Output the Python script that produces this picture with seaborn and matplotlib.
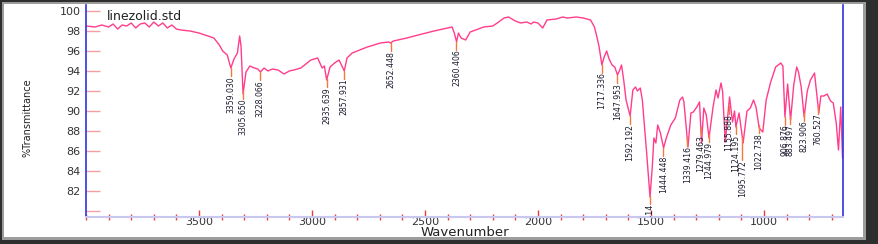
import numpy as np
import pandas as pd
import matplotlib
matplotlib.use("Agg")
import matplotlib.pyplot as plt
import matplotlib.font_manager as fm
from matplotlib.patches import Rectangle
from matplotlib.ticker import MultipleLocator
import seaborn as sns

# ---------------- data ----------------
wavenumber = [4000, 3960, 3930, 3900, 3880, 3860, 3840, 3820, 3800, 3780, 3760, 3740, 3720,
              3700, 3680, 3660, 3640, 3620, 3600, 3580, 3540, 3500, 3460, 3434, 3410, 3395,
              3375, 3359, 3345, 3330, 3320, 3314, 3305, 3292, 3275, 3255, 3240, 3228, 3212,
              3195, 3175, 3150, 3124, 3100, 3080, 3049, 3005, 2975, 2955, 2945, 2935, 2920,
              2900, 2880, 2857, 2845, 2822, 2755, 2697, 2660, 2652, 2640, 2580, 2530, 2460,
              2400, 2380, 2370, 2360, 2352, 2340, 2320, 2300, 2240, 2200, 2180, 2150, 2130,
              2100, 2077, 2050, 2030, 2019, 2000, 1979, 1960, 1920, 1890, 1870, 1830, 1800,
              1767, 1750, 1740, 1730, 1717, 1707, 1696, 1685, 1672, 1660, 1648, 1640, 1630,
              1620, 1610, 1592, 1580, 1568, 1560, 1547, 1538, 1520, 1504, 1494, 1487, 1478,
              1470, 1458, 1444, 1432, 1412, 1392, 1372, 1360, 1354, 1336, 1323, 1312, 1297,
              1285, 1276, 1266, 1255, 1243, 1225, 1212, 1203, 1190, 1183, 1171, 1152, 1139,
              1130, 1124, 1110, 1092, 1075, 1060, 1046, 1035, 1021, 1005, 990, 970, 948,
              925, 916, 907, 895, 882, 868, 855, 847, 835, 822, 808, 794, 776, 770, 757,
              748, 735, 720, 705, 693, 680, 670, 660, 652]
transmittance = [98.5, 98.4, 98.6, 98.4, 98.7, 98.2, 98.6, 98.5, 98.8, 98.3, 98.7, 98.8, 98.4,
                 98.9, 98.5, 98.8, 98.3, 98.6, 98.2, 98.1, 98.0, 97.8, 97.5, 97.3, 96.6, 96.0,
                 95.6, 94.3, 95.2, 95.8, 97.5, 96.5, 91.7, 93.9, 94.5, 94.3, 94.2, 93.9, 94.3,
                 94.0, 94.2, 94.1, 93.7, 94.0, 94.1, 94.3, 95.1, 95.3, 94.3, 94.5, 93.1, 94.4,
                 94.8, 95.1, 94.0, 95.3, 95.8, 96.4, 96.8, 96.9, 96.8, 97.0, 97.3, 97.6, 98.0,
                 98.3, 98.4, 97.8, 96.9, 97.8, 97.3, 97.1, 97.9, 98.4, 98.5, 98.8, 99.3, 99.4,
                 99.0, 98.8, 98.9, 98.7, 98.9, 98.8, 98.3, 99.1, 99.2, 99.4, 99.3, 99.4, 99.3,
                 99.1, 98.4, 97.5, 96.5, 94.6, 95.4, 96.0, 95.2, 94.6, 94.4, 93.6, 94.0, 94.6,
                 93.0, 91.1, 89.5, 92.1, 92.4, 92.0, 92.3, 91.1, 86.1, 81.4, 84.4, 87.3, 86.8,
                 88.6, 87.8, 86.3, 87.3, 88.6, 89.3, 91.1, 91.4, 90.9, 86.4, 89.8, 89.9, 90.4,
                 90.9, 86.8, 90.3, 89.6, 87.3, 90.4, 92.1, 91.3, 92.8, 92.0, 86.9, 91.4, 88.9,
                 90.0, 88.4, 89.8, 86.8, 90.0, 90.3, 91.1, 90.4, 88.3, 87.9, 91.1, 92.9, 94.4,
                 94.8, 94.5, 89.4, 92.7, 89.1, 92.6, 94.4, 93.9, 92.4, 89.4, 92.0, 93.1, 93.8,
                 92.5, 89.8, 91.5, 91.5, 91.7, 91.0, 90.8, 88.8, 86.1, 90.4, 85.3]

peak_wn = [3359.030, 3305.650, 3228.066, 2935.639, 2857.931, 2652.448, 2360.406, 1717.336,
           1647.953, 1592.192, 1504.414, 1444.448, 1339.416, 1279.463, 1244.979, 1155.888,
           1124.195, 1095.772, 1022.738, 906.876, 883.497, 823.906, 760.527]
peak_labels = ["3359.030", "3305.650", "3228.066", "2935.639", "2857.931", "2652.448",
               "2360.406", "1717.336", "1647.953", "1592.192", "1504.414", "1444.448",
               "1339.416", "1279.463", "1244.979", "1155.888", "1124.195", "1095.772",
               "1022.738", "906.876", "883.497", "823.906", "760.527"]

y_ticks = [80, 82, 84, 86, 88, 90, 92, 94, 96, 98, 100]
y_tick_labels = ["", "82", "84", "86", "88", "90", "92", "94", "96", "98", "100"]
x_ticks = [3500, 3000, 2500, 2000, 1500, 1000]
x_tick_labels = ["3500", "3000", "2500", "2000", "1500", "1000"]

title_text = "linezolid.std"
x_label = "Wavenumber"
y_label = "%Transmittance"

# ---------------- style ----------------
sns.set_theme(style="white")
names = {f.name for f in fm.fontManager.ttflist}
narrow = "Liberation Sans Narrow" if "Liberation Sans Narrow" in names else "DejaVu Sans"
plt.rcParams["font.family"] = ["DejaVu Sans"]

W, H = 879, 244
fig = plt.figure(figsize=(W / 100, H / 100), dpi=100)
fig.patch.set_facecolor("#2e2e2e")
# frame look
fig.add_artist(Rectangle((2 / W, 1 - 240 / H), 864 / W, 238 / H, transform=fig.transFigure,
                         facecolor="#9c9c9c", edgecolor="none", zorder=-3))
fig.add_artist(Rectangle((4 / W, 1 - 237 / H), 859 / W, 233 / H, transform=fig.transFigure,
                         facecolor="white", edgecolor="none", zorder=-2))

x0, x1, ytop, ybot = 86, 843, 5, 217
ax = fig.add_axes([x0 / W, 1 - ybot / H, (x1 - x0) / W, (ybot - ytop) / H])
ax.set_facecolor("white")

df = pd.DataFrame({"Wavenumber": wavenumber, "T": transmittance})
sns.lineplot(data=df, x="Wavenumber", y="T", sort=False, estimator=None,
             color="#ff3d8b", linewidth=1.0, ax=ax)

ax.set_xlim(4000, 650)
ax.set_ylim(79.4, 100.6)

# peak annotations (labels that would collide with their left neighbour drop lower)
peak_T = np.interp(peak_wn, wavenumber[::-1], transmittance[::-1])
tick_len = 0.8
label_len = 2.6
prev_wn, prev_bottom = None, None
for wn, t, lab in zip(peak_wn, peak_T, peak_labels):
    top = t - tick_len
    if prev_wn is not None and prev_wn - wn < 30 and top > prev_bottom - 0.1 and top < prev_bottom + label_len:
        if abs(prev_wn - wn) < 30 and lab == "1095.772":
            top = prev_bottom
    ax.plot([wn, wn], [t, top], color="#f07a40", linewidth=1.0, zorder=3)
    ax.text(wn, top, lab, rotation=90, ha="center", va="top",
            fontsize=5.6, family=narrow, color="#1a1a2e", clip_on=True, zorder=4)
    prev_wn, prev_bottom = wn, top - label_len

# axes styling
ax.spines["top"].set_visible(False)
ax.spines["left"].set_color("#3030e0")
ax.spines["right"].set_color("#3030e0")
ax.spines["bottom"].set_color("#c8c8ee")
ax.spines["left"].set_linewidth(1.2)
ax.spines["right"].set_linewidth(1.2)
ax.spines["bottom"].set_linewidth(1.5)

ax.set_yticks(y_ticks)
ax.set_yticklabels(y_tick_labels)
ax.set_xticks(x_ticks)
ax.set_xticklabels(x_tick_labels)
ax.xaxis.set_minor_locator(MultipleLocator(100))
ax.tick_params(axis="y", which="major", direction="in", length=10, width=1.0,
               color="#f5a0a0", labelsize=8, labelcolor="#333333", pad=4, left=True)
ax.tick_params(axis="x", which="major", direction="in", length=5, width=1.0,
               color="#e84040", labelsize=8, labelcolor="#333333", pad=0, bottom=True)
ax.tick_params(axis="x", which="minor", direction="inout", length=4, width=1.0,
               color="#e84040", bottom=True)
ax.set_xlabel("")
ax.set_ylabel("")
ax.grid(False)

ax.text(0.028, 0.948, title_text, transform=ax.transAxes, fontsize=9,
        color="#222222", ha="left", va="center")
fig.text(28 / W, 1 - 118 / H, y_label, rotation=90, ha="center", va="center",
         fontsize=7, family=narrow, color="#222222")
fig.text(465 / W, 1 - 232 / H, x_label, ha="center", va="center",
         fontsize=9.5, color="#222222")

fig.savefig("out.png", dpi=100, facecolor=fig.get_facecolor())
